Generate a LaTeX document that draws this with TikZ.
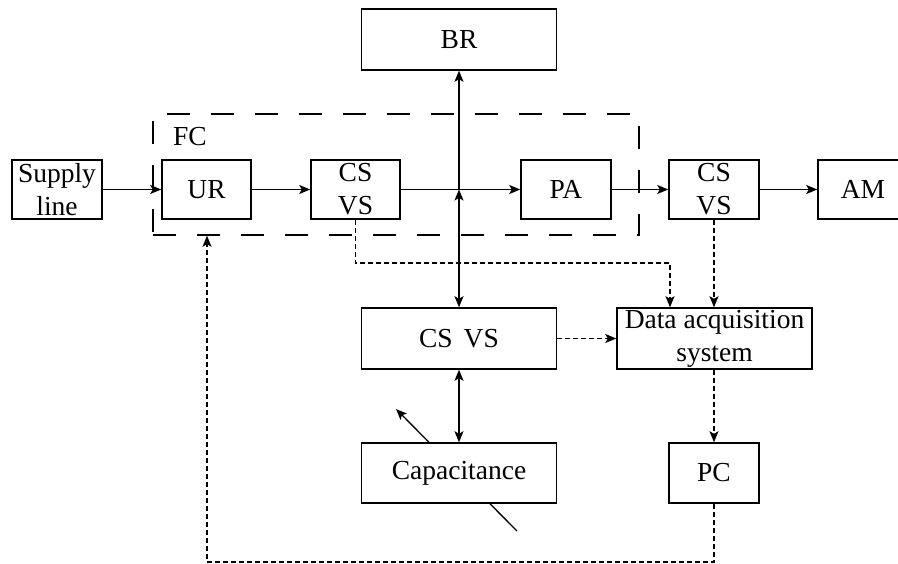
\documentclass[tikz,border=0pt]{standalone}
\usepackage{fontspec}
\setmainfont{Liberation Serif}
\usetikzlibrary{arrows.meta,calc,backgrounds}
\begin{document}
\begin{tikzpicture}[x=1pt,y=-1pt,
  box/.style={draw,line width=1.5pt,fill=white,inner sep=0pt,align=center,
    font=\fontsize{27.5}{33}\selectfont},
  small/.style={box,minimum width=90pt,minimum height=59pt},
  wide/.style={box,minimum width=195pt,minimum height=61pt},
  arr/.style={line width=1.5pt,-{Stealth[length=11pt,width=9pt,inset=2.5pt]}},
  darr/.style={line width=1.2pt,dash pattern=on 5pt off 3pt,-{Stealth[length=11pt,width=9pt,inset=2.5pt]}},
  biarr/.style={line width=1.5pt,{Stealth[length=11pt,width=9pt,inset=2.5pt]}-{Stealth[length=11pt,width=9pt,inset=2.5pt]}},
  fcbox/.style={draw,line width=1.5pt,dash pattern=on 23pt off 21pt,inner sep=0pt,minimum width=486pt,minimum height=121pt}
]
\useasboundingbox (0,0) rectangle (898,564);
\clip (0,0) rectangle (898,564);
\node[fcbox] (fc) at (396,174.5) {};
\node[font=\fontsize{27.5}{33}\selectfont] (fclabel) at (190,137) {FC};
\node[small] (supply) at (57,189.5) {Supply\\line};
\node[small,minimum width=89pt] (UR) at (206.5,189.5) {UR};
\node[small,minimum width=89pt] (csvs1) at (355.5,189.5) {CS\\VS};
\node[small] (PA) at (566,189.5) {PA};
\node[small] (csvs2) at (714,189.5) {CS\\VS};
\node[small] (AM) at (863,189.5) {AM};
\node[wide] (BR) at (459,39.5) {BR};
\node[wide] (csvs3) at (459,338.5) {CS\hspace{0.4em}VS};
\node[wide] (data) at (714.5,338.5) {Data acquisition\\system};
\node[wide,minimum height=60pt] (cap) at (459,473) {Capacitance};
\node[small,minimum height=60pt] (PC) at (714,473) {PC};
\begin{scope}[on background layer]
\coordinate (vc1) at (517,531);
\coordinate (vc2) at (396,409);
\draw[arr,line width=1.3pt] (vc1) -- (vc2);
\end{scope}
\draw[arr] (supply) -- (UR);
\draw[arr] (UR) -- (csvs1);
\draw[arr] (csvs1) -- (PA);
\draw[arr] (PA) -- (csvs2);
\draw[arr] (csvs2) -- (AM);
\coordinate (j) at (459,189.5);
\draw[arr] (j) -- (BR.south);
\draw[biarr] (csvs3.north) -- (j);
\draw[biarr] (csvs3.south) -- (cap.north);
\coordinate (t1) at (670,263);
\draw[darr] (csvs1.south) |- (t1) -- (t1 |- data.north);
\draw[darr] (csvs2.south) -- (csvs2.south |- data.north);
\draw[darr] (csvs3.east) -- (data.west);
\draw[darr] (PC.north |- data.south) -- (PC.north);
\coordinate (b) at (207,562);
\draw[darr] (PC.south) |- (b) -- (b |- fc.south);
\end{tikzpicture}
\end{document}
